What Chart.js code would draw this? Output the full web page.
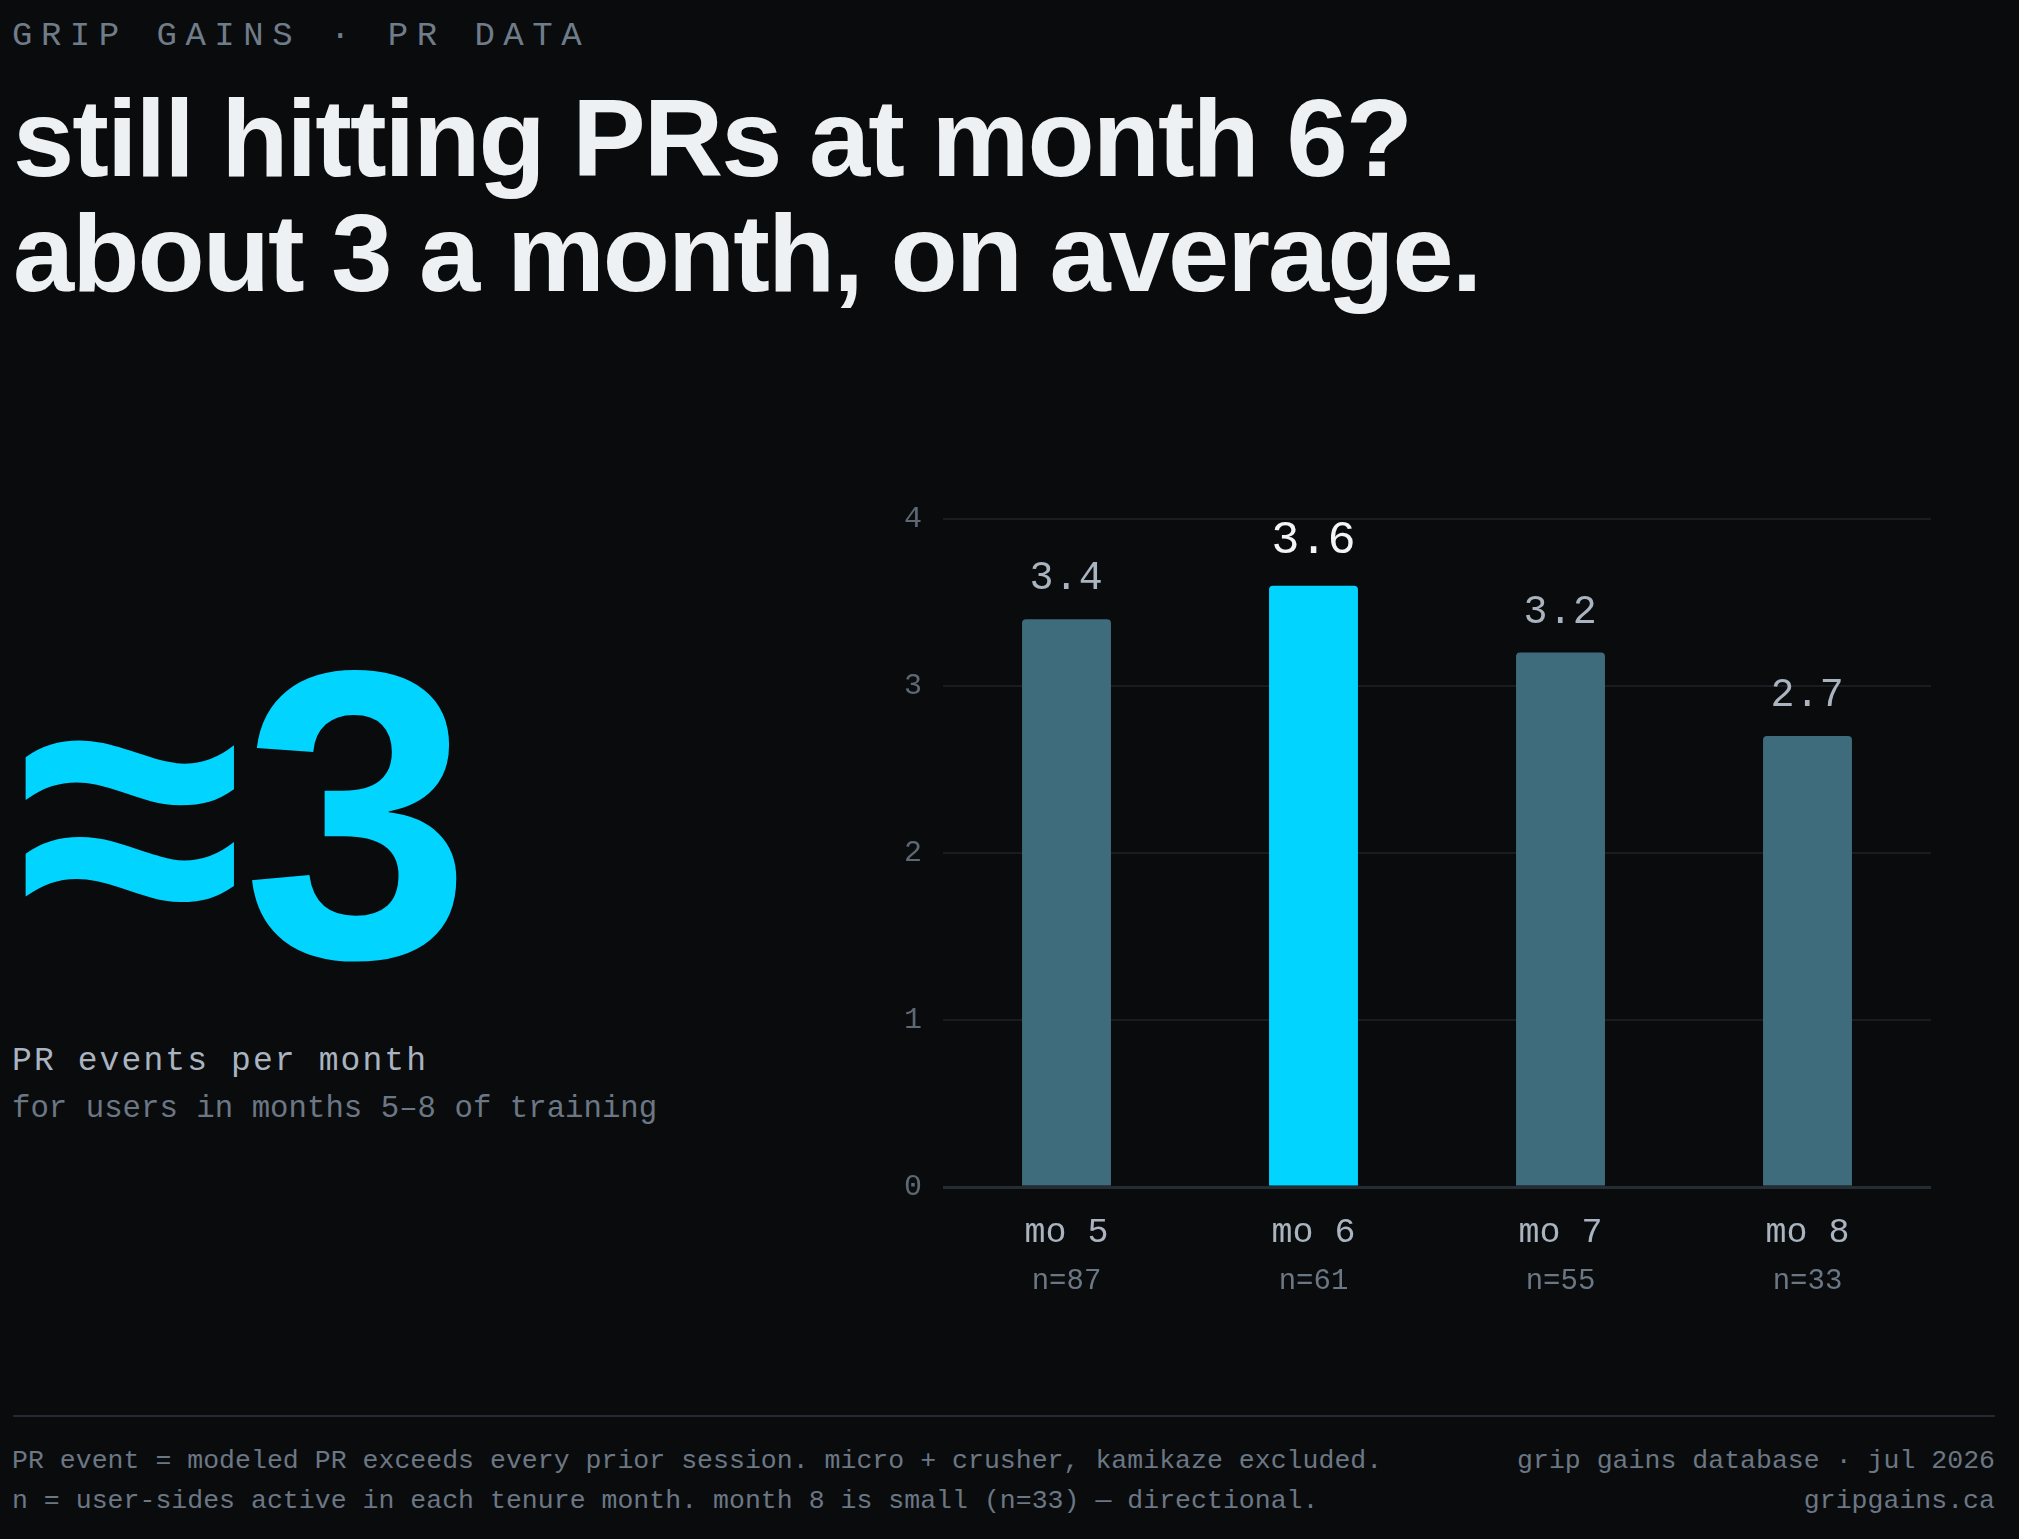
<!DOCTYPE html>
<html>
<head>
<meta charset="utf-8">
<script src="https://cdn.jsdelivr.net/npm/chart.js@4.4.1/dist/chart.umd.min.js"></script>
<style>
  html, body { margin: 0; padding: 0; }
  body { width: 2019px; height: 1539px; background: #0a0b0c; position: relative; overflow: hidden; }
  .t { position: absolute; white-space: nowrap; margin: 0; }
  .mono { font-family: 'Liberation Mono', monospace; }
  .sans { font-family: 'Liberation Sans', Arial, sans-serif; }
  #kicker { left: 12px; top: 19px; font-size: 34px; line-height: 34px; letter-spacing: 8.5px; color: #6f7c8a; }
  #title { left: 13px; top: 80px; font-size: 110px; line-height: 115px; font-weight: 700; letter-spacing: -1.95px; color: #eef1f4; }
  #big { left: 17px; top: 609px; font-size: 411px; line-height: 411px; font-weight: 700; letter-spacing: 0px; color: #00d4ff; }
  #lbl1 { left: 12px; top: 1045px; font-size: 33px; line-height: 33px; letter-spacing: 2.1px; color: #a9b4c0; }
  #lbl2 { left: 12px; top: 1094px; font-size: 30.7px; line-height: 30.7px; letter-spacing: 0.02px; color: #6b7785; }
  #rule { position: absolute; left: 13px; top: 1415px; width: 1982px; height: 2px; background: #242a31; }
  .foot { font-size: 26.5px; line-height: 26.5px; letter-spacing: 0.03px; color: #6b7785; }
  #f1 { left: 12px; top: 1448px; }
  #f2 { left: 12px; top: 1488px; }
  #f3 { right: 24px; top: 1448px; text-align: right; }
  #f4 { right: 24px; top: 1488px; text-align: right; }
  #chartWrap { position: absolute; left: 880px; top: 480px; width: 1060px; height: 840px; }
</style>
</head>
<body>
<div id="kicker" class="t mono">GRIP GAINS · PR DATA</div>
<div id="title" class="t sans">still hitting PRs at month 6?<br>about 3 a month, on average.</div>
<div id="big" class="t sans">≈3</div>
<div id="lbl1" class="t mono">PR events per month</div>
<div id="lbl2" class="t mono">for users in months 5–8 of training</div>
<div id="chartWrap"><canvas id="c"></canvas></div>
<div id="rule"></div>
<div id="f1" class="t mono foot">PR event = modeled PR exceeds every prior session. micro + crusher, kamikaze excluded.</div>
<div id="f2" class="t mono foot">n = user-sides active in each tenure month. month 8 is small (n=33) — directional.</div>
<div id="f3" class="t mono foot">grip gains database · jul 2026</div>
<div id="f4" class="t mono foot">gripgains.ca</div>
<script>
// ---- data ----
const categories = ['mo 5', 'mo 6', 'mo 7', 'mo 8'];
const sampleSizes = ['n=87', 'n=61', 'n=55', 'n=33'];
const prPerMonth = [3.4, 3.6, 3.2, 2.7];
const highlightIndex = 1;
const yTickValues = [0, 1, 2, 3, 4];

// ---- styles ----
const MONO = "'Liberation Mono', monospace";
const BAR = '#3e6c7d';
const BAR_HL = '#00d4ff';

const valueLabels = {
  id: 'valueLabels',
  afterDatasetsDraw(chart) {
    const ctx = chart.ctx;
    const meta = chart.getDatasetMeta(0);
    ctx.save();
    ctx.textAlign = 'center';
    ctx.textBaseline = 'alphabetic';
    meta.data.forEach((el, i) => {
      const hl = i === highlightIndex;
      const size = hl ? 47 : 40;
      ctx.font = size + 'px ' + MONO;
      ctx.letterSpacing = hl ? '0px' : '0.6px';
      ctx.fillStyle = hl ? '#f2f5f8' : '#a9b4c0';
      ctx.fillText(prPerMonth[i].toFixed(1), el.x, el.y - (hl ? 33 : 30));
    });
    ctx.restore();
  }
};

const xLabels = {
  id: 'xLabels',
  afterDraw(chart) {
    const ctx = chart.ctx;
    const xs = chart.scales.x;
    const base = chart.scales.y.getPixelForValue(0);
    ctx.save();
    ctx.textAlign = 'center';
    ctx.textBaseline = 'alphabetic';
    categories.forEach((c, i) => {
      const x = xs.getPixelForValue(i);
      ctx.font = '35px ' + MONO;
      ctx.letterSpacing = '0px';
      ctx.fillStyle = '#a9b4c0';
      ctx.fillText(c, x, base + 55);
      ctx.font = '29px ' + MONO;
      ctx.letterSpacing = '0px';
      ctx.fillStyle = '#6b7785';
      ctx.fillText(sampleSizes[i], x, base + 102);
    });
    ctx.restore();
  }
};

new Chart(document.getElementById('c'), {
  type: 'bar',
  data: {
    labels: categories,
    datasets: [{
      data: prPerMonth,
      backgroundColor: prPerMonth.map((v, i) => i === highlightIndex ? BAR_HL : BAR),
      borderRadius: 4,
      borderSkipped: 'start',
      barPercentage: 0.36,
      categoryPercentage: 1.0
    }]
  },
  options: {
    responsive: true,
    maintainAspectRatio: false,
    animation: false,
    devicePixelRatio: 1,
    layout: { padding: { top: 38, right: 9, bottom: 133, left: 0 } },
    plugins: { legend: { display: false }, tooltip: { enabled: false } },
    scales: {
      x: { display: false, grid: { display: false } },
      y: {
        min: yTickValues[0],
        max: yTickValues[yTickValues.length - 1],
        afterBuildTicks: s => { s.ticks = yTickValues.map(v => ({ value: v })); },
        afterFit: s => { s.width = 63; },
        ticks: { padding: 21, color: '#5d6875', font: { family: MONO, size: 30 } },
        grid: {
          drawTicks: false,
          color: c => c.tick && c.tick.value === 0 ? '#252c34' : '#191d22',
          lineWidth: c => c.tick && c.tick.value === 0 ? 3 : 2
        },
        border: { display: false }
      }
    }
  },
  plugins: [valueLabels, xLabels]
});
</script>
</body>
</html>
